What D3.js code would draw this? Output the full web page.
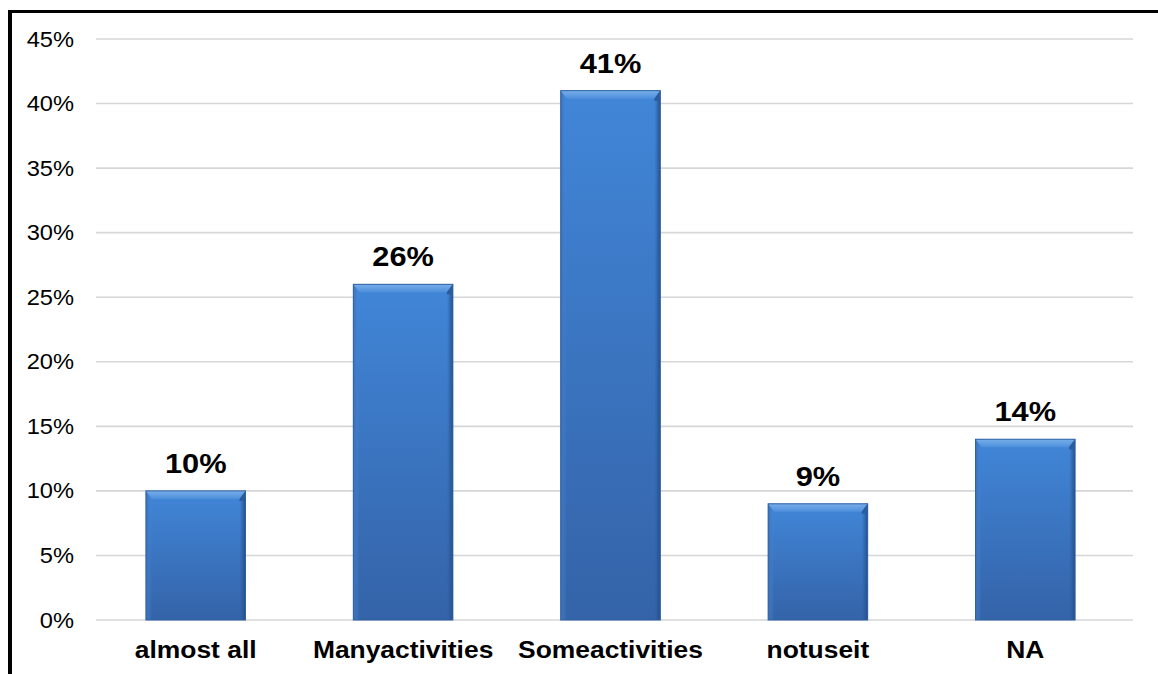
<!DOCTYPE html>
<html>
<head>
<meta charset="utf-8">
<script src="https://cdn.jsdelivr.net/npm/d3@7/dist/d3.min.js"></script>
<style>
  html, body { margin: 0; padding: 0; background: #fff; }
  svg { display: block; }
  text { font-family: "Liberation Sans", Arial, sans-serif; fill: #000; }
</style>
</head>
<body>
<svg id="chart" width="1158" height="674"></svg>
<script>
// Share of respondents by usage level
const categories = ["almost all", "Manyactivities", "Someactivities", "notuseit", "NA"];
const values = [10, 26, 41, 9, 14];
const yTicks = [0, 5, 10, 15, 20, 25, 30, 35, 40, 45];

const svg = d3.select("#chart");
const W = 1158, H = 674;
const xStretch = 1.1; // glyphs are drawn slightly wide

const x = d3.scaleBand()
  .domain(categories)
  .range([92, 1129])
  .paddingInner(0.52)
  .paddingOuter(0.26);

const y = d3.scaleLinear().domain([0, 45]).range([620, 39]);

// gradients for the bevelled bars
const defs = svg.append("defs");
const body = defs.append("linearGradient").attr("id", "barBody")
  .attr("x1", 0).attr("y1", 0).attr("x2", 0).attr("y2", 1);
body.append("stop").attr("offset", "0%").attr("stop-color", "#4186d8");
body.append("stop").attr("offset", "100%").attr("stop-color", "#3463a8");

const topBevel = defs.append("linearGradient").attr("id", "barTop")
  .attr("x1", 0).attr("y1", 0).attr("x2", 0).attr("y2", 1);
topBevel.append("stop").attr("offset", "0%").attr("stop-color", "#78aee8");
topBevel.append("stop").attr("offset", "100%").attr("stop-color", "#4d8fdc");

const leftBevel = defs.append("linearGradient").attr("id", "barLeft")
  .attr("x1", 0).attr("y1", 0).attr("x2", 1).attr("y2", 0);
leftBevel.append("stop").attr("offset", "0%").attr("stop-color", "#3a70b8");
leftBevel.append("stop").attr("offset", "100%").attr("stop-color", "#4a89d6").attr("stop-opacity", 0);

const rightBevel = defs.append("linearGradient").attr("id", "barRight")
  .attr("x1", 0).attr("y1", 0).attr("x2", 1).attr("y2", 0);
rightBevel.append("stop").attr("offset", "0%").attr("stop-color", "#2b5a9a").attr("stop-opacity", 0);
rightBevel.append("stop").attr("offset", "100%").attr("stop-color", "#244e8a");

// gridlines
svg.append("g").selectAll("line").data(yTicks).join("line")
  .attr("x1", 96).attr("x2", 1133)
  .attr("y1", d => y(d)).attr("y2", d => y(d))
  .attr("stroke", "#d6d6d6").attr("stroke-width", 1.6);

// y-axis tick labels
svg.append("g").selectAll("text").data(yTicks).join("text")
  .attr("transform", d => `translate(74,${y(d)}) scale(${xStretch},1)`)
  .attr("text-anchor", "end")
  .attr("dy", "0.35em")
  .style("font-size", "21.5px")
  .text(d => d + "%");

// bars
const bw = x.bandwidth();
const bev = 8, side = 6;
const bars = svg.append("g").selectAll("g").data(values).join("g")
  .attr("transform", (d, i) => `translate(${x(categories[i])},${y(d)})`);

bars.append("rect")
  .attr("width", bw).attr("height", d => y(0) - y(d))
  .attr("fill", "url(#barBody)");
bars.append("rect")
  .attr("width", side).attr("height", d => y(0) - y(d))
  .attr("fill", "url(#barLeft)");
bars.append("rect")
  .attr("x", bw - side).attr("width", side).attr("height", d => y(0) - y(d))
  .attr("fill", "url(#barRight)");
bars.append("path")
  .attr("d", `M0,0 L${bw},0 L${bw - side},${bev} L${side},${bev} Z`)
  .attr("fill", "url(#barTop)");
bars.append("path")
  .attr("d", `M${bw},0 L${bw - side},${bev} L${bw - side},${bev + 2} L${bw},${bev + 2} Z`)
  .attr("fill", "#2c5c9c");
bars.append("rect")
  .attr("width", bw).attr("height", d => y(0) - y(d))
  .attr("fill", "none").attr("stroke", "#2f61a3").attr("stroke-width", 1);

// value labels
svg.append("g").selectAll("text").data(values).join("text")
  .attr("transform", (d, i) =>
    `translate(${x(categories[i]) + bw / 2},${y(d) - 18}) scale(${xStretch},1)`)
  .attr("text-anchor", "middle")
  .style("font-size", "28px").style("font-weight", "bold")
  .text(d => d + "%");

// category labels
svg.append("g").selectAll("text").data(categories).join("text")
  .attr("transform", d => `translate(${x(d) + bw / 2},658) scale(${xStretch},1)`)
  .attr("text-anchor", "middle")
  .style("font-size", "24px").style("font-weight", "bold")
  .text(d => d);

// outer frame (top and left edges)
svg.append("line").attr("x1", 8).attr("x2", W).attr("y1", 11.5).attr("y2", 11.5)
  .attr("stroke", "#000").attr("stroke-width", 3);
svg.append("line").attr("x1", 10).attr("x2", 10).attr("y1", 10).attr("y2", H)
  .attr("stroke", "#000").attr("stroke-width", 4);
</script>
</body>
</html>
